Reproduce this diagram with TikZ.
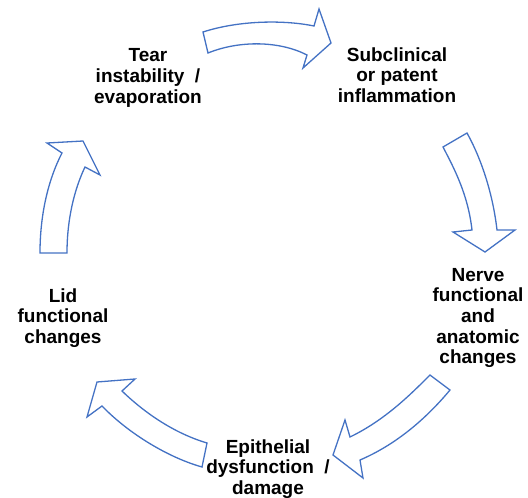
\documentclass[tikz,border=0pt]{standalone}
\usepackage{fontspec}
\setmainfont{Liberation Sans}
\usetikzlibrary{positioning}
\definecolor{arrowblue}{RGB}{68,114,196}

\begin{document}
\begin{tikzpicture}
  [x=1pt,y=-1pt,
   stageN/.style={align=center,inner sep=0pt,
     font=\fontsize{19}{20.7}\selectfont\bfseries},
   bigArrow/.style={draw=arrowblue,fill=white,line width=1.3pt,line join=miter}]

  \useasboundingbox (0,0) rectangle (528,498);

  \node[stageN] (tear)   at (148,78)  {Tear\\instability \ /\\evaporation};
  \node[stageN] (inflam) at (397,75)  {Subclinical\\or patent\\inflammation};
  \node[stageN] (nerve)  at (478,318) {Nerve\\functional\\and\\anatomic\\changes};
  \node[stageN] (epith)  at (268,469) {Epithelial\\dysfunction \ /\\damage};
  \node[stageN] (lid)    at (63,318)  {Lid\\functional\\changes};

  % tear -> inflammation
  \draw[bigArrow] (203,32) .. controls (240,20) and (285,20) .. (314,26)
    -- (319,9) -- (331,43) -- (303,68) -- (307,55)
    .. controls (280,41) and (240,40) .. (208,53) -- cycle;
  % inflammation -> nerve
  \draw[bigArrow] (443,147) .. controls (455,170) and (468,195) .. (472,230)
    -- (453,232) -- (485,252) -- (515,230) -- (497,230)
    .. controls (493,195) and (482,160) .. (467,133) -- cycle;
  % nerve -> epithelial
  \draw[bigArrow] (430,375) .. controls (410,395) and (385,420) .. (350,437)
    -- (345,420) -- (333,455) -- (363,478) -- (360,460)
    .. controls (395,445) and (425,420) .. (450,390) -- cycle;
  % epithelial -> lid
  \draw[bigArrow] (207,443) .. controls (180,435) and (150,418) .. (122,391)
    -- (135,379) -- (97,382) -- (87,417) -- (102,406)
    .. controls (130,435) and (170,458) .. (202,467) -- cycle;
  % lid -> tear
  \draw[bigArrow] (40,253) .. controls (40,215) and (48,180) .. (62,153)
    -- (47,143) -- (83,141) -- (100,175) -- (85,167)
    .. controls (74,190) and (67,220) .. (67,253) -- cycle;
\end{tikzpicture}
\end{document}
